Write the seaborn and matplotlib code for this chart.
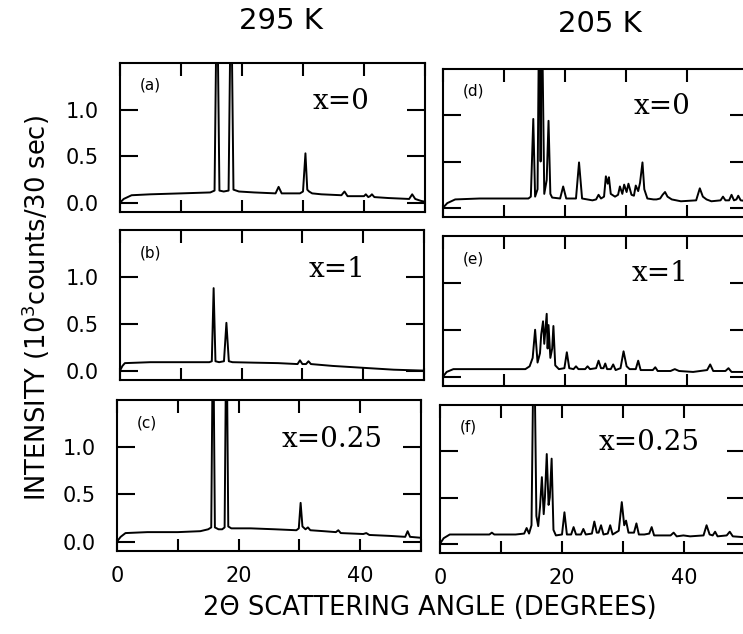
import matplotlib
matplotlib.use("Agg")
import matplotlib.pyplot as plt
import seaborn as sns
import pandas as pd
from matplotlib.ticker import FixedLocator, FixedFormatter

# ---------------- data ----------------
# 295 K, x = 0  (panel a)
angle_a = [0, 0.6, 1.9, 5, 10, 14.8, 15.5, 15.9, 16.3, 17.0, 17.8, 18.2, 18.6, 19.5, 22,
           25.5, 26.0, 26.5, 29.5, 30.0, 30.4, 30.7, 31.0, 31.5, 33, 36.3, 36.8, 37.3,
           40.0, 40.3, 40.7, 41.0, 41.3, 41.7, 44, 47.4, 47.9, 48.4, 49.3, 50]
inten_a = [0.0, 0.04, 0.08, 0.09, 0.10, 0.11, 0.13, 2.5, 0.13, 0.12, 0.13, 2.5, 0.14, 0.12, 0.11,
           0.10, 0.17, 0.10, 0.10, 0.12, 0.53, 0.14, 0.12, 0.10, 0.09, 0.08, 0.12, 0.07,
           0.07, 0.09, 0.06, 0.07, 0.09, 0.06, 0.05, 0.04, 0.09, 0.04, 0.02, 0.01]

# 295 K, x = 1  (panel b)
angle_b = [0, 0.4, 0.8, 5, 10, 14.7, 15.1, 15.4, 15.7, 16.3, 17.1, 17.5, 17.9, 18.5, 22, 26,
           29.2, 29.6, 30.0, 30.6, 31.0, 31.4, 35, 40, 45, 50]
inten_b = [0.0, 0.05, 0.08, 0.09, 0.09, 0.09, 0.10, 0.88, 0.10, 0.09, 0.10, 0.51, 0.10, 0.09, 0.085, 0.08,
           0.07, 0.11, 0.07, 0.07, 0.10, 0.07, 0.05, 0.03, 0.01, 0.0]

# 295 K, x = 0.25  (panel c)
angle_c = [0, 0.6, 1.4, 5, 10, 13.7, 15.0, 15.5, 15.8, 16.1, 16.7, 17.3, 17.7, 18.0, 18.3, 18.8,
           22, 26, 29.5, 29.9, 30.2, 30.5, 31.0, 31.4, 31.8, 34, 36.0, 36.4, 36.8, 40.5, 41.0,
           41.5, 44.9, 47.4, 47.8, 48.2, 50]
inten_c = [0.0, 0.05, 0.09, 0.10, 0.10, 0.11, 0.13, 0.15, 2.5, 0.15, 0.13, 0.13, 0.15, 2.5, 0.16, 0.14,
           0.14, 0.13, 0.12, 0.14, 0.41, 0.16, 0.13, 0.15, 0.12, 0.11, 0.10, 0.12, 0.09, 0.08, 0.09,
           0.07, 0.06, 0.05, 0.11, 0.05, 0.04]

# 205 K, x = 0  (panel d)
angle_d = [0, 0.7, 2.0, 6, 10, 14.0, 14.4, 14.8, 15.1, 15.5, 15.8, 16.0, 16.15, 16.6, 17.0, 17.3,
           17.6, 17.9, 19.2, 19.7, 20.2, 21.8, 22.3, 22.8, 24.5, 25.1, 25.5, 25.9, 26.4, 26.7,
           27.0, 27.2, 27.5, 28.2, 28.7, 29.0, 29.4, 29.7, 30.1, 30.4, 30.9, 31.3, 31.6, 32.0,
           32.3, 32.7, 33.0, 33.5, 34.5, 35.0, 35.6, 36.0, 36.4, 36.8, 37.5, 39, 41.5, 42.1,
           42.6, 43.2, 44, 45.5, 45.9, 46.3, 46.9, 47.3, 47.7, 48.1, 48.4, 48.8, 50]
inten_d = [0.0, 0.05, 0.09, 0.10, 0.10, 0.10, 0.12, 0.96, 0.12, 0.20, 2.5, 0.50, 2.5, 0.15, 0.30, 0.94,
           0.15, 0.11, 0.10, 0.23, 0.10, 0.10, 0.49, 0.10, 0.08, 0.09, 0.14, 0.10, 0.12, 0.34,
           0.26, 0.33, 0.15, 0.12, 0.14, 0.23, 0.15, 0.25, 0.17, 0.26, 0.14, 0.13, 0.24, 0.18,
           0.27, 0.49, 0.20, 0.10, 0.09, 0.09, 0.10, 0.14, 0.17, 0.12, 0.09, 0.07, 0.08, 0.21,
           0.12, 0.09, 0.07, 0.08, 0.12, 0.08, 0.08, 0.14, 0.08, 0.09, 0.13, 0.08, 0.07]

# 205 K, x = 1  (panel e)
angle_e = [0, 0.6, 1.7, 6, 10, 13.5, 14.2, 14.7, 15.1, 15.5, 15.9, 16.1, 16.4, 16.6, 17.0, 17.15,
           17.3, 17.6, 17.9, 18.1, 18.4, 19.0, 19.9, 20.3, 20.7, 21.4, 21.8, 22.2, 23.3, 23.7,
           24.1, 25.1, 25.5, 25.9, 26.3, 26.6, 26.9, 27.5, 27.9, 28.3, 29.1, 29.6, 30.1, 30.6,
           31.6, 32.0, 32.4, 34.4, 34.8, 35.2, 37.3, 38.0, 38.7, 41, 43.3, 43.8, 44.3, 46.3,
           46.8, 47.3, 50]
inten_e = [0.0, 0.05, 0.08, 0.08, 0.08, 0.08, 0.11, 0.20, 0.50, 0.15, 0.25, 0.45, 0.59, 0.35, 0.67, 0.30,
           0.55, 0.20, 0.30, 0.54, 0.12, 0.08, 0.09, 0.26, 0.09, 0.08, 0.11, 0.08, 0.08, 0.11,
           0.08, 0.09, 0.17, 0.09, 0.09, 0.14, 0.08, 0.08, 0.13, 0.07, 0.09, 0.27, 0.11, 0.08,
           0.08, 0.17, 0.07, 0.07, 0.10, 0.06, 0.06, 0.08, 0.06, 0.05, 0.07, 0.13, 0.06, 0.06,
           0.09, 0.05, 0.05]

# 205 K, x = 0.25  (panel f)
angle_f = [0, 0.6, 1.6, 5, 8.1, 8.5, 8.9, 12.4, 13.8, 14.2, 14.6, 15.0, 15.4, 15.8, 16.1, 16.4,
           16.7, 17.0, 17.2, 17.5, 17.8, 18.0, 18.3, 18.6, 19.0, 20.0, 20.4, 20.8, 21.5, 21.9,
           22.3, 23.1, 23.5, 23.9, 24.9, 25.3, 25.7, 26.0, 26.4, 26.8, 27.5, 27.9, 28.3, 29.3,
           29.8, 30.2, 30.5, 30.9, 31.8, 32.2, 32.6, 33.5, 34.3, 34.7, 35.1, 37.8, 38.3, 38.8,
           39.9, 41, 43.2, 43.7, 44.2, 44.7, 45.1, 45.5, 47.0, 47.5, 48.0, 50]
inten_f = [0.0, 0.06, 0.10, 0.10, 0.10, 0.12, 0.10, 0.10, 0.11, 0.17, 0.11, 0.20, 2.5, 0.30, 0.19, 0.40,
           0.72, 0.32, 0.50, 0.97, 0.42, 0.50, 0.92, 0.15, 0.09, 0.10, 0.34, 0.10, 0.10, 0.18,
           0.10, 0.10, 0.16, 0.10, 0.11, 0.24, 0.12, 0.12, 0.20, 0.10, 0.11, 0.20, 0.10, 0.14,
           0.45, 0.20, 0.25, 0.12, 0.12, 0.22, 0.10, 0.10, 0.11, 0.18, 0.09, 0.09, 0.12, 0.08,
           0.09, 0.08, 0.09, 0.20, 0.10, 0.09, 0.13, 0.08, 0.09, 0.13, 0.08, 0.07]

panel_tags = ["(a)", "(b)", "(c)", "(d)", "(e)", "(f)"]
composition_labels = ["x=0", "x=1", "x=0.25", "x=0", "x=1", "x=0.25"]
column_titles = ["295 K", "205 K"]
y_ticks = [0.0, 0.5, 1.0]
y_ticklabels = ["0.0", "0.5", "1.0"]
x_ticks = [0, 10, 20, 30, 40, 50]
x_ticklabels = ["0", "", "20", "", "40", ""]
x_label = "2\u0398 SCATTERING ANGLE (DEGREES)"
y_label = "INTENSITY (10$^{3}$counts/30 sec)"

# ---------------- figure ----------------
sns.set_theme(style="ticks")
plt.rcParams["font.family"] = ["DejaVu Sans"]
plt.rcParams["text.color"] = "black"
plt.rcParams["axes.labelcolor"] = "black"
plt.rcParams["xtick.color"] = "black"
plt.rcParams["ytick.color"] = "black"
plt.rcParams["mathtext.default"] = "regular"

W, H = 743, 634
fig = plt.figure(figsize=(W / 100, H / 100), dpi=100)
fig.patch.set_facecolor("white")

# axes boxes in pixels: left, top, right, bottom
boxes = [(120, 63, 425, 212), (120, 230, 424, 380), (117, 400, 421, 551),
         (443, 69, 748, 217), (443, 236, 748, 386), (440, 405, 745, 553)]
label_pos = [(0.63, 0.74), (0.62, 0.74), (0.54, 0.74),
             (0.625, 0.75), (0.62, 0.75), (0.52, 0.75)]

data = [(angle_a, inten_a), (angle_b, inten_b), (angle_c, inten_c),
        (angle_d, inten_d), (angle_e, inten_e), (angle_f, inten_f)]

for i, ((xs, ys), box) in enumerate(zip(data, boxes)):
    l, t, r, b = box
    ax = fig.add_axes([l / W, 1 - b / H, (r - l) / W, (b - t) / H])
    df = pd.DataFrame({"angle": xs, "intensity": ys})
    sns.lineplot(data=df, x="angle", y="intensity", ax=ax, estimator=None,
                 sort=False, color="black", lw=1.4)
    ax.set_xlim(0, 50)
    ax.set_ylim(-0.1, 1.5)
    ax.set_xlabel("")
    ax.set_ylabel("")
    for sp in ax.spines.values():
        sp.set_visible(True)
        sp.set_linewidth(1.5)
        sp.set_color("black")
    ax.xaxis.set_major_locator(FixedLocator(x_ticks))
    ax.yaxis.set_major_locator(FixedLocator(y_ticks))
    if i in (2, 5):
        ax.xaxis.set_major_formatter(FixedFormatter(x_ticklabels))
    else:
        ax.xaxis.set_major_formatter(FixedFormatter([""] * len(x_ticks)))
    if i < 3:
        ax.yaxis.set_major_formatter(FixedFormatter(y_ticklabels))
    else:
        ax.yaxis.set_major_formatter(FixedFormatter([""] * len(y_ticks)))
    ax.tick_params(axis="x", direction="in", length=9, width=1.5, top=True,
                   bottom=True, labelsize=15, pad=11)
    ax.tick_params(axis="y", direction="in", length=13, width=1.5, left=True,
                   right=True, labelsize=15, pad=15)
    ax.set_facecolor("white")
    ax.text(0.065, 0.85, panel_tags[i], transform=ax.transAxes, fontsize=11,
            va="center", ha="left")
    lx, ly = label_pos[i]
    ax.text(lx, ly, composition_labels[i], transform=ax.transAxes,
            family="DejaVu Serif", fontsize=20, va="center", ha="left")

fig.text(281 / W, 1 - 21 / H, column_titles[0], fontsize=21, ha="center", va="center")
fig.text(600 / W, 1 - 24 / H, column_titles[1], fontsize=21, ha="center", va="center")
fig.text(430 / W, 1 - 608 / H, x_label, fontsize=18.5, ha="center", va="center")
fig.text(36 / W, 1 - 308 / H, y_label, fontsize=18.5, ha="center", va="center",
         rotation=90)

fig.savefig("out.png", dpi=100, facecolor="white")
